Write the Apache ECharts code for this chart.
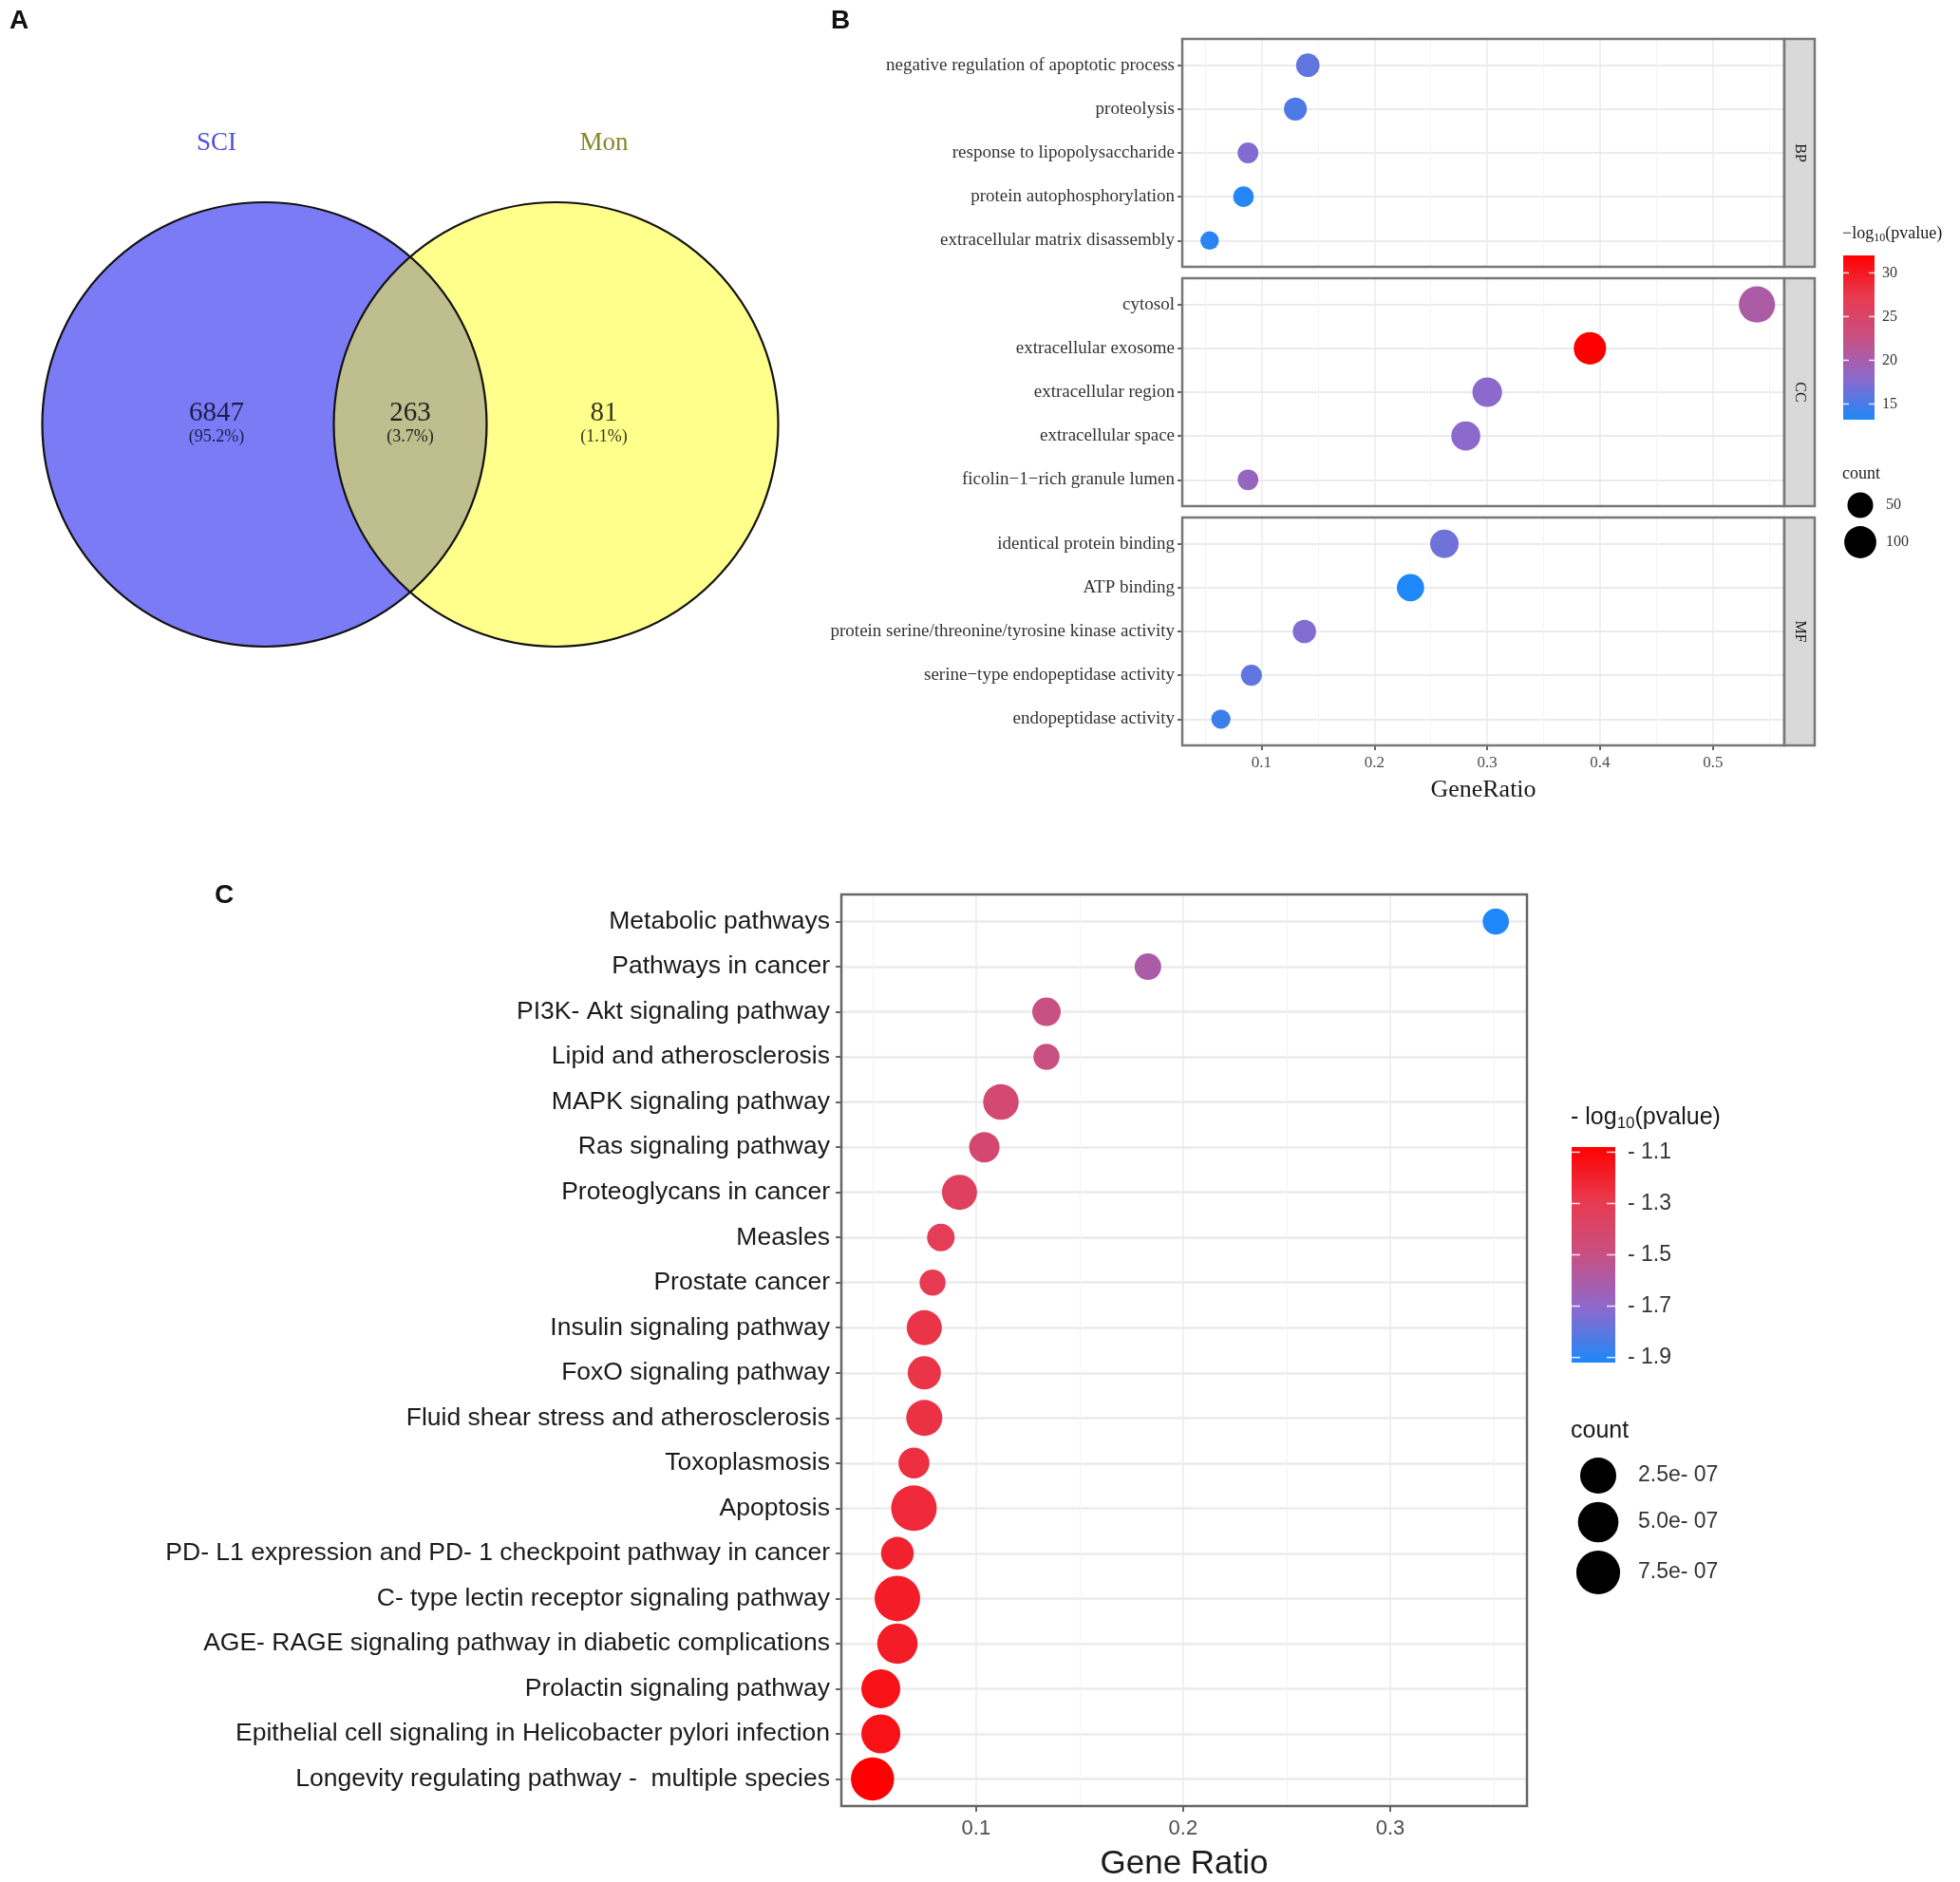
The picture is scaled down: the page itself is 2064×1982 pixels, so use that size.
<!DOCTYPE html>
<html><head><meta charset="utf-8">
<script src="https://cdn.jsdelivr.net/npm/echarts@6/dist/echarts.min.js"></script>
<style>html,body{margin:0;padding:0;background:#fff}#chart{width:2064px;height:1982px}</style>
</head><body><div id="chart"></div>
<script>
// ---------------- Panel A: Venn data ----------------
const vennSetNames = ['SCI', 'Mon'];
const vennCounts = [6847, 263, 81];            // SCI only, both, Mon only
const vennPercents = ['(95.2%)', '(3.7%)', '(1.1%)'];

// ---------------- Panel B: GO enrichment data ----------------
const goOntologies = ['BP', 'CC', 'MF'];
const goTermsBP = ['negative regulation of apoptotic process', 'proteolysis', 'response to lipopolysaccharide', 'protein autophosphorylation', 'extracellular matrix disassembly'];
const goTermsCC = ['cytosol', 'extracellular exosome', 'extracellular region', 'extracellular space', 'ficolin\u22121\u2212rich granule lumen'];
const goTermsMF = ['identical protein binding', 'ATP binding', 'protein serine/threonine/tyrosine kinase activity', 'serine\u2212type endopeptidase activity', 'endopeptidase activity'];
const goRatioBP = [0.141, 0.130, 0.088, 0.084, 0.054];
const goRatioCC = [0.539, 0.391, 0.300, 0.281, 0.088];
const goRatioMF = [0.262, 0.232, 0.138, 0.091, 0.064];
const goCountBP = [37, 34, 23, 22, 14];
const goCountCC = [142, 103, 79, 74, 23];
const goCountMF = [69, 61, 36, 24, 17];
const goLogPBP = [16.0, 15.3, 17.5, 13.5, 13.6];
const goLogPCC = [20.4, 32.0, 17.9, 17.9, 18.7];
const goLogPMF = [16.6, 13.2, 17.5, 16.0, 14.5];
const goXTicks = [0.1, 0.2, 0.3, 0.4, 0.5];
const goColorTicks = [15, 20, 25, 30];
const goSizeTicks = [50, 100];

// ---------------- Panel C: KEGG enrichment data ----------------
const keggTerms = ['Metabolic pathways', 'Pathways in cancer', 'PI3K- Akt signaling pathway', 'Lipid and atherosclerosis',
  'MAPK signaling pathway', 'Ras signaling pathway', 'Proteoglycans in cancer', 'Measles', 'Prostate cancer',
  'Insulin signaling pathway', 'FoxO signaling pathway', 'Fluid shear stress and atherosclerosis', 'Toxoplasmosis',
  'Apoptosis', 'PD- L1 expression and PD- 1 checkpoint pathway in cancer', 'C- type lectin receptor signaling pathway',
  'AGE- RAGE signaling pathway in diabetic complications', 'Prolactin signaling pathway',
  'Epithelial cell signaling in Helicobacter pylori infection', 'Longevity regulating pathway -  multiple species'];
const keggRatio = [0.351, 0.183, 0.134, 0.134, 0.112, 0.104, 0.092, 0.083, 0.079, 0.075,
  0.075, 0.075, 0.070, 0.070, 0.062, 0.062, 0.062, 0.054, 0.054, 0.050];
const keggLogP = [-1.92, -1.60, -1.50, -1.50, -1.43, -1.42, -1.35, -1.32, -1.30, -1.27,
  -1.27, -1.26, -1.25, -1.23, -1.20, -1.18, -1.18, -1.14, -1.14, -1.08];
const keggCount = [1e-9, 2e-9, 1.8e-8, 5e-10, 2.25e-7, 5.1e-8, 2.04e-7, 8e-9, 5e-10, 2.04e-7,
  1.31e-7, 2.47e-7, 6.2e-8, 9.0e-7, 1.15e-7, 9.0e-7, 4.9e-7, 4.0e-7, 4.0e-7, 7.0e-7];
const keggXTicks = [0.1, 0.2, 0.3];
const keggColorTicks = [-1.1, -1.3, -1.5, -1.7, -1.9];
const keggSizeTicks = [2.5e-7, 5.0e-7, 7.5e-7];

// ---------------- styles / layout ----------------
const SERIF = "'Liberation Serif','Times New Roman',serif";
const SANS = "'Liberation Sans',Arial,Helvetica,sans-serif";
const COLOR_STOPS = ['#1e88f8', '#8c69cd', '#c85082', '#e83a50', '#ff0000'];
const goSize = c => 2.3 * Math.sqrt(c) + 10.8;
const keggSize = v => 27 + 7 * Math.sqrt(v / 1e-7);
const VENN = { half: 0.656, r: 1, setLabelY: 1.265, labelX: 0.872, countDy: 0.051, pctDy: -0.056 };
const B_LAYOUT = { left: 1245, width: 634, tops: [41, 293, 545], height: 240, stripW: 32 };
const C_LAYOUT = { left: 886, top: 942, width: 722, height: 964 };
const DISCRETE_PAD = 0.6;

function expandRange(arr) {
  const mn = Math.min(...arr), mx = Math.max(...arr), p = (mx - mn) * 0.05;
  return [mn - p, mx + p];
}
const goTerms = [goTermsBP, goTermsCC, goTermsMF];
const goRatio = [goRatioBP, goRatioCC, goRatioMF];
const goCount = [goCountBP, goCountCC, goCountMF];
const goLogP = [goLogPBP, goLogPCC, goLogPMF];
const bX = expandRange(goRatio.flat());
const bPMin = Math.min(...goLogP.flat()), bPMax = Math.max(...goLogP.flat());
const cX = expandRange(keggRatio);
const cPMin = Math.min(...keggLogP), cPMax = Math.max(...keggLogP);

// ---------------- Venn renderer ----------------
function renderVenn(params, api) {
  const c0 = api.coord([-VENN.half, 0]), c1 = api.coord([VENN.half, 0]);
  const r = api.size([VENN.r, 0])[0];
  const mx = (c0[0] + c1[0]) / 2, cy = c0[1];
  const hd = (c1[0] - c0[0]) / 2;
  const h = Math.sqrt(r * r - hd * hd);
  const lens = 'M' + mx + ' ' + (cy - h) + ' A' + r + ' ' + r + ' 0 0 1 ' + mx + ' ' + (cy + h) +
    ' A' + r + ' ' + r + ' 0 0 1 ' + mx + ' ' + (cy - h) + ' Z';
  const ch = [
    { type: 'circle', shape: { cx: c0[0], cy: cy, r: r }, style: { fill: '#7b7bf5' } },
    { type: 'circle', shape: { cx: c1[0], cy: cy, r: r }, style: { fill: '#ffff8c' } },
    { type: 'path', shape: { pathData: lens }, style: { fill: '#bfbe8e' } },
    { type: 'circle', shape: { cx: c0[0], cy: cy, r: r }, style: { fill: 'none', stroke: '#111', lineWidth: 2.2 } },
    { type: 'circle', shape: { cx: c1[0], cy: cy, r: r }, style: { fill: 'none', stroke: '#111', lineWidth: 2.2 } }
  ];
  const setColors = ['#5050e0', '#85852c'];
  vennSetNames.forEach((n, i) => {
    const p = api.coord([(i === 0 ? -1 : 1) * VENN.labelX, VENN.setLabelY]);
    ch.push({ type: 'text', style: { text: n, x: p[0], y: p[1], fill: setColors[i], fontFamily: SERIF, fontSize: 27, textAlign: 'center', textVerticalAlign: 'middle' } });
  });
  const regX = [-VENN.labelX, 0, VENN.labelX];
  const regColors = ['#1c1c4e', '#222222', '#35351e'];
  vennCounts.forEach((n, i) => {
    const p = api.coord([regX[i], VENN.countDy]);
    const q = api.coord([regX[i], VENN.pctDy]);
    ch.push({ type: 'text', style: { text: String(n), x: p[0], y: p[1], fill: regColors[i], fontFamily: SERIF, fontSize: 29, textAlign: 'center', textVerticalAlign: 'middle' } });
    ch.push({ type: 'text', style: { text: vennPercents[i], x: q[0], y: q[1], fill: regColors[i], fontFamily: SERIF, fontSize: 18, textAlign: 'center', textVerticalAlign: 'middle' } });
  });
  return { type: 'group', children: ch };
}

// ---------------- axes ----------------
const grids = [{ left: 10.8, top: 25.8, width: 842.4, height: 842.4, show: false }];
const xAxes = [{ type: 'value', gridIndex: 0, min: -1.8, max: 1.8, show: false }];
const yAxes = [{ type: 'value', gridIndex: 0, min: -1.8, max: 1.8, show: false }];
const series = [{ type: 'custom', xAxisIndex: 0, yAxisIndex: 0, data: [[0, 0]], renderItem: renderVenn, silent: true }];

goOntologies.forEach((ont, i) => {
  const last = i === goOntologies.length - 1;
  const n = goTerms[i].length;
  const idx = goTerms[i].map((t, j) => j);
  grids.push({ left: B_LAYOUT.left, top: B_LAYOUT.tops[i], width: B_LAYOUT.width, height: B_LAYOUT.height,
    show: true, borderColor: '#777', borderWidth: 2.5, backgroundColor: 'transparent', z: 5 });
  xAxes.push({ type: 'value', gridIndex: i + 1, position: 'bottom', min: bX[0], max: bX[1], splitNumber: 5,
    axisLine: { show: false, onZero: false },
    axisTick: { show: last, length: 5, customValues: goXTicks, lineStyle: { color: '#333', width: 1.5 } },
    axisLabel: { show: last, customValues: goXTicks, formatter: v => v.toFixed(1), color: '#4d4d4d', fontFamily: SERIF, fontSize: 17, margin: 10 },
    splitLine: { show: true, lineStyle: { color: '#ebebeb', width: 1.5 } },
    minorTick: { show: false, splitNumber: 2 },
    minorSplitLine: { show: true, lineStyle: { color: '#f3f3f3', width: 1 } },
    name: last ? 'GeneRatio' : '', nameLocation: 'middle', nameGap: 34,
    nameTextStyle: { fontFamily: SERIF, fontSize: 26, color: '#1a1a1a' } });
  yAxes.push({ type: 'value', gridIndex: i + 1, position: 'left', inverse: true, min: -DISCRETE_PAD, max: n - 1 + DISCRETE_PAD, splitNumber: 5,
    axisLine: { show: false, onZero: false },
    axisTick: { show: true, length: 5, customValues: idx, lineStyle: { color: '#333', width: 1.5 } },
    axisLabel: { customValues: idx, formatter: v => goTerms[i][Math.round(v)], fontFamily: SERIF, fontSize: 19, color: '#333', margin: 8 },
    splitLine: { show: true, lineStyle: { color: '#ebebeb', width: 2 } } });
  series.push({ type: 'scatter', xAxisIndex: i + 1, yAxisIndex: i + 1, z: 2,
    data: goTerms[i].map((t, j) => [goRatio[i][j], j, goCount[i][j], goLogP[i][j]]),
    symbolSize: v => goSize(v[2]), itemStyle: { opacity: 1 } });
});

const kIdx = keggTerms.map((t, j) => j);
grids.push({ left: C_LAYOUT.left, top: C_LAYOUT.top, width: C_LAYOUT.width, height: C_LAYOUT.height,
  show: true, borderColor: '#666', borderWidth: 2.5, backgroundColor: 'transparent', z: 5 });
xAxes.push({ type: 'value', gridIndex: 4, position: 'bottom', min: cX[0], max: cX[1], splitNumber: 3,
  axisLine: { show: false, onZero: false },
  axisTick: { show: true, length: 6, customValues: keggXTicks, lineStyle: { color: '#333', width: 1.5 } },
  axisLabel: { customValues: keggXTicks, formatter: v => v.toFixed(1), color: '#4d4d4d', fontFamily: SANS, fontSize: 22, margin: 13 },
  splitLine: { show: true, lineStyle: { color: '#ebebeb', width: 1.5 } },
  minorTick: { show: false, splitNumber: 2 },
  minorSplitLine: { show: true, lineStyle: { color: '#f3f3f3', width: 1 } },
  name: 'Gene Ratio', nameLocation: 'middle', nameGap: 44,
  nameTextStyle: { fontFamily: SANS, fontSize: 35, color: '#1a1a1a' } });
yAxes.push({ type: 'value', gridIndex: 4, position: 'left', inverse: true, min: -DISCRETE_PAD, max: keggTerms.length - 1 + DISCRETE_PAD, splitNumber: 20,
  axisLine: { show: false, onZero: false },
  axisTick: { show: true, length: 6, customValues: kIdx, lineStyle: { color: '#333', width: 1.5 } },
  axisLabel: { customValues: kIdx, formatter: v => keggTerms[Math.round(v)], fontFamily: SANS, fontSize: 26.5, color: '#1a1a1a', margin: 12 },
  splitLine: { show: true, lineStyle: { color: '#ebebeb', width: 2.5 } } });
series.push({ type: 'scatter', xAxisIndex: 4, yAxisIndex: 4, z: 2,
  data: keggTerms.map((t, j) => [keggRatio[j], j, keggCount[j], keggLogP[j]]),
  symbolSize: v => keggSize(v[2]), itemStyle: { opacity: 1 } });

// ---------------- legends & decorations (graphic) ----------------
const graphics = [];
function txt(x, y, text, o) {
  return Object.assign({ type: 'text', x: x, y: y, z: 10, style: Object.assign({ text: text, fill: '#1a1a1a', textAlign: 'left', textVerticalAlign: 'middle' }, o || {}) });
}
// panel letters
[['A', 10, 22], ['B', 875, 22], ['C', 226, 943]].forEach(a => graphics.push(txt(a[1], a[2], a[0], { fontFamily: SANS, fontWeight: 'bold', fontSize: 28, fill: '#111' })));
// strips
goOntologies.forEach((ont, i) => {
  const t = B_LAYOUT.tops[i], x = B_LAYOUT.left + B_LAYOUT.width;
  graphics.push({ type: 'rect', z: 6, shape: { x: x, y: t, width: B_LAYOUT.stripW, height: B_LAYOUT.height }, style: { fill: '#d9d9d9', stroke: '#777', lineWidth: 2.5 } });
  graphics.push({ type: 'text', z: 7, x: x + B_LAYOUT.stripW / 2, y: t + B_LAYOUT.height / 2, rotation: -Math.PI / 2,
    style: { text: ont, fill: '#1a1a1a', fontFamily: SERIF, fontSize: 16, textAlign: 'center', textVerticalAlign: 'middle' } });
});
function colorbar(x, y, w, h, vmin, vmax, ticks, fmt, tickLen, labelX, font, fsize) {
  graphics.push({ type: 'rect', z: 10, shape: { x: x, y: y, width: w, height: h },
    style: { fill: { type: 'linear', x: 0, y: 1, x2: 0, y2: 0, colorStops: COLOR_STOPS.map((c, i) => ({ offset: i / (COLOR_STOPS.length - 1), color: c })) } } });
  ticks.forEach(v => {
    const ty = y + (vmax - v) / (vmax - vmin) * h;
    graphics.push({ type: 'line', z: 11, shape: { x1: x, y1: ty, x2: x + tickLen, y2: ty }, style: { stroke: 'rgba(255,255,255,0.85)', lineWidth: 1.5 } });
    graphics.push({ type: 'line', z: 11, shape: { x1: x + w - tickLen, y1: ty, x2: x + w, y2: ty }, style: { stroke: 'rgba(255,255,255,0.85)', lineWidth: 1.5 } });
    graphics.push(txt(labelX, ty, fmt(v), { fontFamily: font, fontSize: fsize, fill: '#333' }));
  });
}
// B legend
graphics.push(txt(1940, 246, '{a|\u2212log}{s|10}{a|(pvalue)}', { rich: {
  a: { fontFamily: SERIF, fontSize: 18, fill: '#1a1a1a', lineHeight: 22 },
  s: { fontFamily: SERIF, fontSize: 12, fill: '#1a1a1a', verticalAlign: 'bottom' } } }));
colorbar(1941, 269, 33, 173, bPMin, bPMax, goColorTicks, v => String(v), 6, 1982, SERIF, 16);
graphics.push(txt(1940, 499, 'count', { fontFamily: SERIF, fontSize: 18 }));
[532, 571].forEach((cy, i) => {
  graphics.push({ type: 'circle', z: 10, shape: { cx: 1959, cy: cy, r: goSize(goSizeTicks[i]) / 2 }, style: { fill: '#000' } });
  graphics.push(txt(1986, cy, String(goSizeTicks[i]), { fontFamily: SERIF, fontSize: 16, fill: '#333' }));
});
// C legend
graphics.push(txt(1654, 1177, '{a|- log}{s|10}{a|(pvalue)}', { rich: {
  a: { fontFamily: SANS, fontSize: 25, fill: '#1a1a1a', lineHeight: 30 },
  s: { fontFamily: SANS, fontSize: 17, fill: '#1a1a1a', verticalAlign: 'bottom' } } }));
colorbar(1655, 1208, 46, 227, cPMin, cPMax, keggColorTicks, v => '- ' + Math.abs(v).toFixed(1), 9, 1714, SANS, 23);
graphics.push(txt(1654, 1507, 'count', { fontFamily: SANS, fontSize: 25 }));
function expFmt(v) {
  const p = v.toExponential(1).split('e');
  return p[0] + 'e- ' + String(Math.abs(+p[1])).padStart(2, '0');
}
[1554, 1603, 1656].forEach((cy, i) => {
  graphics.push({ type: 'circle', z: 10, shape: { cx: 1683, cy: cy, r: keggSize(keggSizeTicks[i]) / 2 }, style: { fill: '#000' } });
  graphics.push(txt(1725, cy, expFmt(keggSizeTicks[i]), { fontFamily: SANS, fontSize: 23, fill: '#333' }));
});

const chart = echarts.init(document.getElementById('chart'), null, { renderer: 'canvas' });
chart.setOption({
  backgroundColor: '#ffffff',
  animation: false,
  grid: grids,
  xAxis: xAxes,
  yAxis: yAxes,
  visualMap: [
    { type: 'continuous', show: false, seriesIndex: [1, 2, 3], dimension: 3, min: bPMin, max: bPMax, inRange: { color: COLOR_STOPS } },
    { type: 'continuous', show: false, seriesIndex: [4], dimension: 3, min: cPMin, max: cPMax, inRange: { color: COLOR_STOPS } }
  ],
  series: series,
  graphic: { elements: graphics }
});
</script>
</body></html>
